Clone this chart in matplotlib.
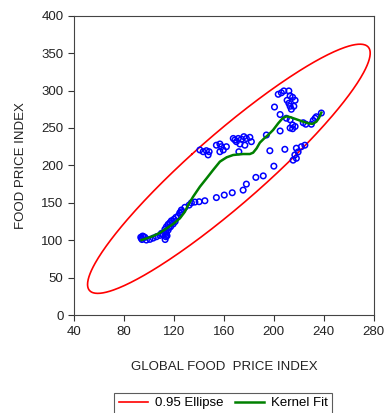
import numpy as np
import matplotlib
matplotlib.use("Agg")
from matplotlib import pyplot as plt

plt.rcParams["font.family"] = ["Liberation Sans", "DejaVu Sans"]

# global food price index vs local food price index (monthly observations)
global_idx = [94, 95, 96.8, 98, 100.8, 103.4, 106, 108.8, 111.4, 113.6, 114, 112.8, 114, 115.4,
              116.8, 118, 120, 121.6, 123.4, 124.8, 126, 117.3, 119.4, 115.4, 110,
              93.5, 94.5, 95.5, 113, 114.5, 116, 118.5, 121, 113.5,
              124.8, 126, 128.8, 132.2, 134, 136.8, 140.2, 144.8,
              154, 160.3, 166.7, 175.4, 178, 185.6, 191.5, 200, 196.8, 208.8,
              140.8, 143.4, 146, 148.2, 147.4, 154, 156.8, 158, 159.5, 156.8, 162,
              167.5, 168.8, 170, 171.5, 174, 176, 178, 180.8, 182, 172.8, 176.8, 172, 194,
              203.5, 206, 208, 212, 213, 215, 217, 210.6, 212, 213, 216, 214, 200.5, 205, 205,
              210, 213, 215, 217, 215, 213, 223.5, 225.6, 230, 231.5, 233, 234, 238,
              224.8, 222, 218, 219.4, 216.8, 218, 215.4]
food_idx = [102.5, 105.6, 103.9, 100.3, 101.2, 102.9, 104.7, 106.5, 107, 104.7, 109.2, 114.6, 118, 121.2,
            123.4, 126, 128, 130.6, 132.4, 136, 138, 118, 121.7, 113.6, 109.2,
            104, 101, 105, 101, 106, 117, 123, 125, 111,
            136.8, 140.4, 144, 147, 150, 151, 151.5, 152.8,
            157, 160.4, 163.5, 167, 175, 184, 186, 199, 219.6, 221.5,
            220.6, 218.3, 219.7, 218.3, 214, 227, 228.6, 225, 220.6, 218.3, 225,
            236, 234, 231.7, 236, 235, 238.4, 236, 237.5, 231.7, 228.6, 227, 218.3, 240.6,
            295, 297, 299.5, 299.5, 293, 291, 287, 287, 283, 279, 279, 275, 278, 268, 246,
            263, 261, 254, 252, 249, 250, 257, 255, 255, 260, 263, 265, 270,
            227, 225, 223, 218, 214, 209.5, 207]

# kernel fit curve
kern_x = [94.1, 98.1, 103.4, 108.8, 114.2, 119.4, 124.8, 128.8, 131.4, 135.4, 140.8, 146.2,
          151.4, 156.8, 162.2, 167.4, 175.4, 180.8, 183.4, 186.2, 188.8, 192.2, 195.4, 199.4,
          203.5, 207, 210, 213, 218, 223.4, 228, 231, 234, 236, 238]
kern_y = [100.3, 102.5, 105.6, 110, 115.9, 121.7, 129.3, 138.1, 147, 158.2, 171.5, 182.8,
          193.9, 205, 210.8, 213.9, 215.2, 215.2, 217, 222.8, 230.4, 236, 240.6, 247.3,
          256.3, 263, 265.5, 264.5, 261.6, 258.4, 256, 255.5, 258.4, 263, 270.5]

# bivariate normal summary for the 0.95 ellipse
mean_x, mean_y = 164.0, 195.5
sd_x, sd_y = 46.2, 68.0
rho = 0.928

fig = plt.figure(figsize=(3.85, 4.13), dpi=100)
ax = fig.add_axes([0.192, 0.237, 0.779, 0.725])

# ellipse boundary at chi-square(2) 0.95 quantile
k = np.sqrt(-2 * np.log(0.05))
cov = np.array([[sd_x ** 2, rho * sd_x * sd_y], [rho * sd_x * sd_y, sd_y ** 2]])
vals, vecs = np.linalg.eigh(cov)
t = np.linspace(0, 2 * np.pi, 400)
circ = np.vstack([np.cos(t), np.sin(t)])
pts = vecs @ (np.sqrt(vals)[:, None] * circ) * k
ax.plot(pts[0] + mean_x, pts[1] + mean_y, color="red", lw=1.2, label="0.95 Ellipse")

ax.scatter(global_idx, food_idx, s=16, facecolors="none", edgecolors="blue", linewidths=1.1, zorder=3)
ax.plot(kern_x, kern_y, color="green", lw=1.8, label="Kernel Fit", zorder=4)

ax.set_xlim(40, 280)
ax.set_ylim(0, 400)
ax.set_xticks(range(40, 281, 40))
ax.set_yticks(range(0, 401, 50))
ax.tick_params(direction="out", length=4, width=0.8, colors="#333333", labelsize=9.5, labelcolor="#222222")
for s in ax.spines.values():
    s.set_color("#444444")
    s.set_linewidth(0.8)

ax.set_xlabel("GLOBAL FOOD  PRICE INDEX", fontsize=9.5, color="#222222", labelpad=17)
ax.set_ylabel("FOOD PRICE INDEX", fontsize=9.5, color="#222222", labelpad=10)

leg = fig.legend(loc="lower center", bbox_to_anchor=(0.58, -0.012), ncol=2, fontsize=9.5,
                 frameon=True, fancybox=False, edgecolor="#333333", handlelength=2.2,
                 columnspacing=0.9, borderpad=0.35, handletextpad=0.5, borderaxespad=0.3)
leg.get_frame().set_linewidth(0.8)

fig.savefig("out.png", dpi=100)
